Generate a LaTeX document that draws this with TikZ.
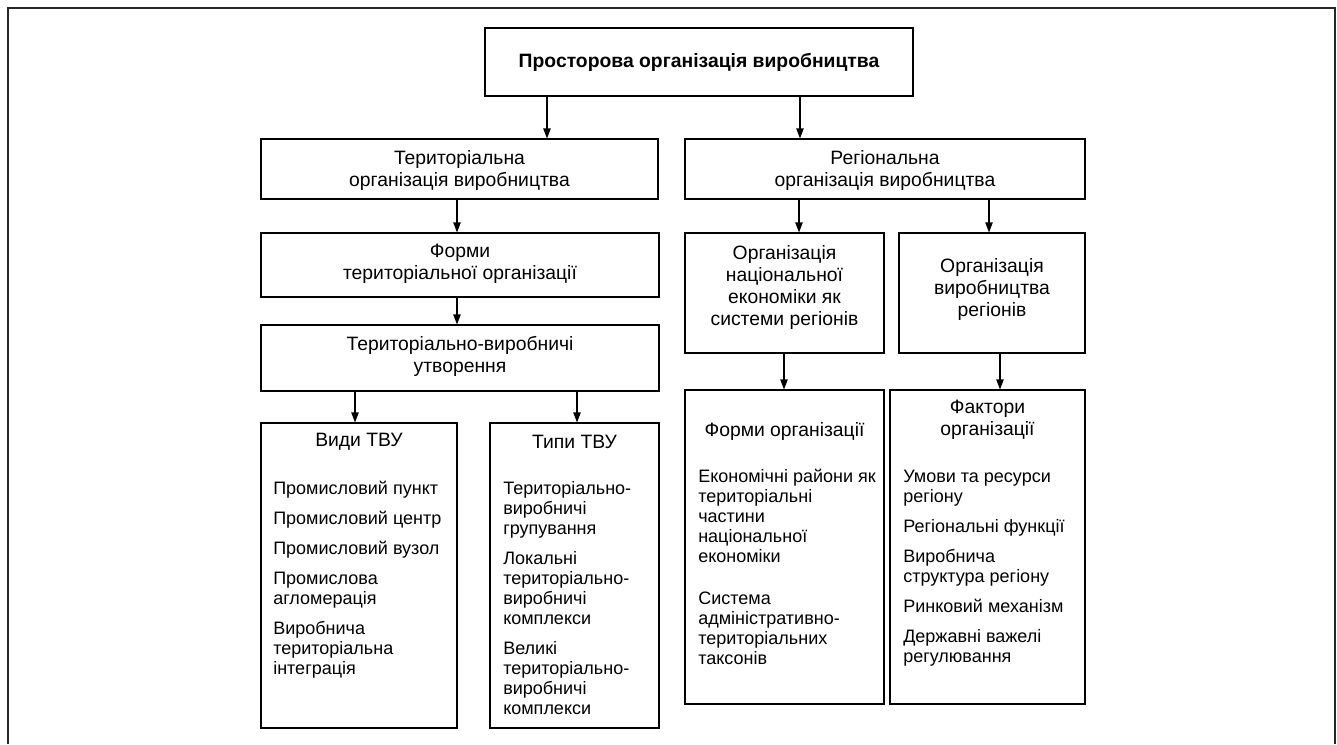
\documentclass[tikz,border=0pt]{standalone}
\usepackage{fontspec}
\setmainfont{Liberation Sans}
\usetikzlibrary{arrows.meta}
\newcommand{\bx}[5]{\node[box, minimum width={(#4-#2)*0.75pt}, minimum height={(#5-#3)*0.75pt}] (#1) at ({(#2+#4)/2},{(#3+#5)/2}) {};}
\newcommand{\lst}[1]{\begin{tabular}[t]{@{}l@{}}#1\end{tabular}}
\begin{document}
\begin{tikzpicture}[x=0.75pt,y=-0.75pt,
  box/.style={draw=black, line width=0.8pt, inner sep=0pt},
  ttl/.style={font=\fontsize{14.5}{16.5}\selectfont, align=center, inner sep=0pt},
  itm/.style={font=\fontsize{13.5}{15}\selectfont, inner sep=0pt, anchor=base west},
  arr/.style={draw=black, line width=0.8pt, -{Triangle[length=7.5pt,width=5.5pt]}},
  frame/.style={draw=black!85, line width=1.8pt}]
\useasboundingbox (0,0) rectangle (1337,744);
\draw[frame] (8,744) -- (8,8) -- (1335,8) -- (1335,744);
% boxes
\bx{top}{485}{28}{913}{96}
\bx{terr}{261}{139}{658}{199}
\bx{reg}{685}{139}{1085}{199}
\bx{forms}{261}{233}{659}{297}
\bx{tvu}{261}{325}{659}{391}
\bx{vydy}{261}{423}{457}{728}
\bx{typy}{490}{423}{659}{728}
\bx{nat}{685}{233}{884}{353}
\bx{vyr}{899}{233}{1085}{353}
\bx{formorg}{685}{390}{884}{704}
\bx{faktory}{890}{390}{1085}{704}
% titles
\node[ttl, font=\fontsize{14.5}{16.5}\selectfont\bfseries] (ttop) at (699,62) {Просторова організація виробництва};
\node[ttl] (tterr) at (459.5,170) {Територіальна\\організація виробництва};
\node[ttl] (treg) at (885,170) {Регіональна\\організація виробництва};
\node[ttl] (tforms) at (460,264) {Форми\\територіальної організації};
\node[ttl] (ttvu) at (460,356) {Територіально-виробничі\\утворення};
\node[ttl] (tnat) at (784.5,287) {Організація\\національної\\економіки як\\системи регіонів};
\node[ttl] (tvyr) at (992,289) {Організація\\виробництва\\регіонів};
\node[ttl] (tvydy) at (359,442) {Види ТВУ};
\node[ttl] (ttypy) at (574.5,442) {Типи ТВУ};
\node[ttl] (tformorg) at (784.5,431) {Форми організації};
\node[ttl] (tfaktory) at (987.5,420) {Фактори\\організації};
% items
\node[itm] (v1) at (273,494) {Промисловий пункт};
\node[itm] (v2) at (273,524) {Промисловий центр};
\node[itm] (v3) at (273,554) {Промисловий вузол};
\node[itm] (v4) at (273,584) {\lst{Промислова\\агломерація}};
\node[itm] (v5) at (273,634) {\lst{Виробнича\\територіальна\\інтеграція}};
\node[itm] (p1) at (503,494) {\lst{Територіально-\\виробничі\\групування}};
\node[itm] (p2) at (503,564) {\lst{Локальні\\територіально-\\виробничі\\комплекси}};
\node[itm] (p3) at (503,654) {\lst{Великі\\територіально-\\виробничі\\комплекси}};
\node[itm] (f1) at (698,482) {\lst{Економічні райони як\\територіальні\\частини\\національної\\економіки}};
\node[itm] (f2) at (698,604) {\lst{Система\\адміністративно-\\територіальних\\таксонів}};
\node[itm] (k1) at (903,482) {\lst{Умови та ресурси\\регіону}};
\node[itm] (k2) at (903,532) {Регіональні функції};
\node[itm] (k3) at (903,562) {\lst{Виробнича\\структура регіону}};
\node[itm] (k4) at (903,612) {Ринковий механізм};
\node[itm] (k5) at (903,642) {\lst{Державні важелі\\регулювання}};
% arrow columns
\coordinate (c1) at (547,0);
\coordinate (c2) at (800,0);
\coordinate (c3) at (457,0);
\coordinate (c4) at (355,0);
\coordinate (c5) at (577,0);
\coordinate (c6) at (799,0);
\coordinate (c7) at (989,0);
\coordinate (c8) at (784,0);
\coordinate (c9) at (1000,0);
\draw[arr] (top.south -| c1) -- (terr.north -| c1);
\draw[arr] (top.south -| c2) -- (reg.north -| c2);
\draw[arr] (terr.south -| c3) -- (forms.north -| c3);
\draw[arr] (forms.south -| c3) -- (tvu.north -| c3);
\draw[arr] (tvu.south -| c4) -- (vydy.north -| c4);
\draw[arr] (tvu.south -| c5) -- (typy.north -| c5);
\draw[arr] (reg.south -| c6) -- (nat.north -| c6);
\draw[arr] (reg.south -| c7) -- (vyr.north -| c7);
\draw[arr] (nat.south -| c8) -- (formorg.north -| c8);
\draw[arr] (vyr.south -| c9) -- (faktory.north -| c9);
\end{tikzpicture}
\end{document}
